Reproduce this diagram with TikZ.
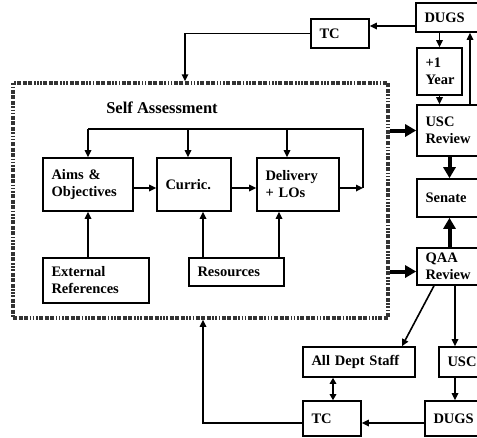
\documentclass[tikz,border=0pt]{standalone}
\usepackage{fontspec}
\setmainfont{Liberation Serif}
\usetikzlibrary{arrows.meta,calc}

\newcommand{\boxfont}{\fontsize{14.5}{17}\selectfont\bfseries}

\tikzset{
  box/.style={draw, line width=1.6pt, rectangle, inner xsep=8.5pt, inner ysep=0pt,
              align=left, font=\boxfont},
  arr/.style={line width=1.6pt, -{Triangle[length=7pt,width=6.5pt]}},
  darr/.style={line width=1.6pt, {Triangle[length=6pt,width=6.5pt]}-{Triangle[length=6pt,width=6.5pt]}},
  plain/.style={line width=1.6pt},
  bigarr/.style={line width=4pt, -{Triangle[length=11pt,width=12pt]}},
  frame/.style={draw=black!80, line width=3.5pt, rectangle, inner sep=0pt,
    dash pattern=on 4pt off 1.5pt on 4pt off 1.5pt on 4pt off 1.5pt on 1.6pt off 1.6pt on 1.6pt off 1.6pt on 1.6pt off 1.6pt},
}

\begin{document}
\begin{tikzpicture}[x=1pt, y=-1pt]
  \clip (0,0) rectangle (477,437);
  \fill[white] (0,0) rectangle (477,437);

  % review cycle on the right
  \node[box, text width=49pt, minimum height=29pt] (dugsT) at (449,17.5) {DUGS};
  \node[box, text width=41pt, minimum height=29pt] (tcT) at (340,33.5) {TC};
  \node[box, text width=28pt, minimum height=47pt] (year) at (439.5,71.5) {+1\\Year};
  \node[box, text width=48pt, minimum height=51pt] (uscR) at (449.5,130.5) {USC\\Review};
  \node[box, text width=48pt, minimum height=38pt] (senate) at (449.5,198) {Senate};
  \node[box, text width=48pt, minimum height=37pt] (qaa) at (449.5,266.5) {QAA\\Review};
  \node[box, text width=95pt, minimum height=30pt] (staff) at (359,362) {All Dept Staff};
  \node[box, text width=26pt, minimum height=30pt] (uscB) at (460.5,362) {USC};
  \node[box, text width=41pt, minimum height=35pt] (tcB) at (332,418.5) {TC};
  \node[box, text width=40pt, minimum height=35pt] (dugsB) at (453.5,418.5) {DUGS};

  % self assessment frame and its contents
  \node[frame, minimum width=375pt, minimum height=235pt] (frame) at (200.5,200.5) {};
  \node[font=\fontsize{16.5}{19}\selectfont\bfseries, inner sep=0pt] (sa) at (162,108) {Self Assessment};

  \node[box, text width=73pt, minimum height=53pt] (aims) at (88,184.5) {Aims \&\\Objectives};
  \node[box, text width=57pt, minimum height=53pt] (curric) at (194,184.5) {Curric.};
  \node[box, text width=65pt, minimum height=53pt] (deliv) at (298,184.5) {Delivery\\+ LOs};
  \node[box, text width=89pt, minimum height=45pt] (ext) at (96,280.5) {External\\References};
  \node[box, text width=78pt, minimum height=28pt] (res) at (236.5,272) {Resources};

  % feedback loop across the three stages
  \coordinate (fbL) at (88,129);
  \coordinate (fbR) at (363,129);
  \coordinate (fbE) at (363,188);
  \draw[plain] (fbL) -- (fbR) -- (fbE);
  \draw[arr] (fbL) -- (aims.north);
  \draw[arr] ([xshift=-6pt]curric.north |- fbL) -- ([xshift=-6pt]curric.north);
  \draw[arr] ([xshift=-11pt]deliv.north |- fbL) -- ([xshift=-11pt]deliv.north);
  \draw[arr] ([yshift=-3.5pt]deliv.east) -- (fbE);

  \draw[arr] ([yshift=-3.5pt]aims.east) -- ([yshift=-3.5pt]curric.west);
  \draw[arr] ([yshift=-3.5pt]curric.east) -- ([yshift=-3.5pt]deliv.west);

  \draw[arr] (ext.north -| aims.south) -- (aims.south);
  \draw[arr] ([xshift=9pt]curric.south |- res.north) -- ([xshift=9pt]curric.south);
  \draw[arr] ([xshift=-19pt]deliv.south |- res.north) -- ([xshift=-19pt]deliv.south);

  % top cycle
  \draw[arr] ([yshift=-8.5pt]dugsT.west) -- ([yshift=-8.5pt]dugsT.west -| tcT.east);
  \draw[arr] (tcT.west) -| ([xshift=-15.5pt]frame.north);
  \draw[arr] (year.north |- dugsT.south) -- (year.north);
  \draw[arr] (year.south) -- (year.south |- uscR.north);
  \draw[arr] ([xshift=20.5pt]uscR.north) -- ([xshift=20.5pt]uscR.north |- dugsT.south);

  % into the reviews and the senate
  \coordinate (qaaIn) at ([yshift=-5pt]qaa.west);
  \draw[bigarr] (frame.east |- uscR.west) -- (uscR.west);
  \draw[bigarr] (frame.east |- qaaIn) -- (qaaIn);
  \draw[bigarr] (uscR.south) -- (senate.north);
  \draw[bigarr] (qaa.north) -- (senate.south);

  % bottom cycle
  \draw[arr] ([xshift=-15.5pt]qaa.south) -- ([xshift=43pt]staff.north);
  \draw[arr] ([xshift=-5.5pt]uscB.north |- qaa.south) -- ([xshift=-5.5pt]uscB.north);
  \draw[arr] ([xshift=-5.5pt]uscB.south) -- ([xshift=-5.5pt]uscB.south |- dugsB.north);
  \draw[arr] ([yshift=-4.5pt]dugsB.west) -- ([yshift=-4.5pt]dugsB.west -| tcB.east);
  \draw[darr] ([xshift=1pt]tcB.north) -- ([xshift=1pt]tcB.north |- staff.south);
  \draw[arr] ([yshift=-4.5pt]tcB.west) -| ([xshift=2.5pt]frame.south);
\end{tikzpicture}
\end{document}
